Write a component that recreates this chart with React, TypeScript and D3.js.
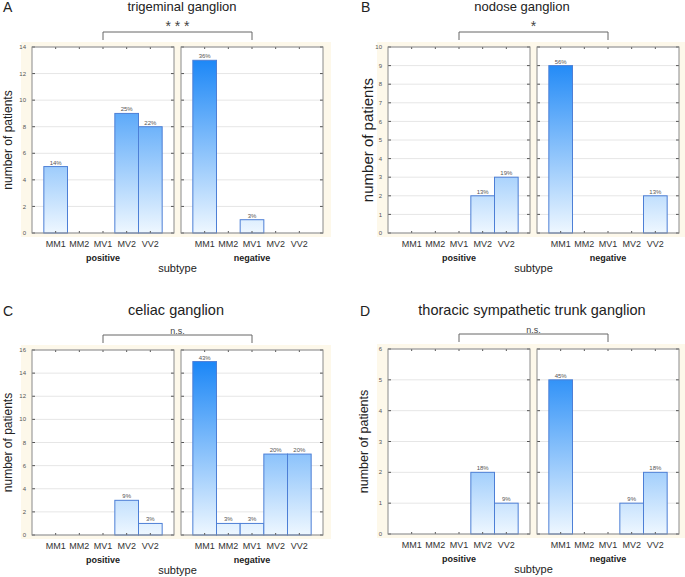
import * as d3 from 'd3';

const categories = ['MM1', 'MM2', 'MV1', 'MV2', 'VV2'];

// counts per subtype, positive / negative
const trigeminalPositive = [5, 0, 0, 9, 8];
const trigeminalNegative = [13, 0, 1, 0, 0];
const trigeminalPosPct = ['14%', '', '', '25%', '22%'];
const trigeminalNegPct = ['36%', '', '3%', '', ''];

const nodosePositive = [0, 0, 0, 2, 3];
const nodoseNegative = [9, 0, 0, 0, 2];
const nodosePosPct = ['', '', '', '13%', '19%'];
const nodoseNegPct = ['56%', '', '', '', '13%'];

const celiacPositive = [0, 0, 0, 3, 1];
const celiacNegative = [15, 1, 1, 7, 7];
const celiacPosPct = ['', '', '', '9%', '3%'];
const celiacNegPct = ['43%', '3%', '3%', '20%', '20%'];

const thoracicPositive = [0, 0, 0, 2, 1];
const thoracicNegative = [5, 0, 0, 1, 2];
const thoracicPosPct = ['', '', '', '18%', '9%'];
const thoracicNegPct = ['45%', '', '', '9%', '18%'];

const FONT = '"Liberation Sans", Arial, sans-serif';

type PanelProps = {
  id: string;
  letter: string;
  title: string;
  sig: string;
  pos: number[];
  neg: number[];
  posPct: string[];
  negPct: string[];
  yMax: number;
  yStep: number;
  x0: number;
  top: number;
  bottom: number;
  letterX: number;
  titleX: number;
  titleY: number;
  titleSize: number;
  sigSize: number;
  ylabelX: number;
  ylabelSize: number;
};

function Panel(p: PanelProps) {
  const w = 142;
  const gap = 7;
  const frames = [
    { x: p.x0, vals: p.pos, pct: p.posPct, name: 'positive' },
    { x: p.x0 + w + gap, vals: p.neg, pct: p.negPct, name: 'negative' },
  ];
  const y = d3.scaleLinear().domain([0, p.yMax]).range([p.bottom, p.top]);
  const ticks = d3.range(0, p.yMax + 0.001, p.yStep);
  const bands = frames.map(f =>
    d3.scaleBand<string>().domain(categories).range([f.x, f.x + w]).paddingInner(0).paddingOuter(0.5)
  );
  const bracketL = bands[0]('MV1')! + bands[0].bandwidth() / 2;
  const bracketR = bands[1]('MV1')! + bands[1].bandwidth() / 2;
  const gid = 'grad' + p.id;
  const bgRight = p.x0 + 2 * w + gap + 8;
  const midY = (p.top + p.bottom) / 2;

  return (
    <g>
      <defs>
        <linearGradient id={gid} gradientUnits="userSpaceOnUse" x1={0} x2={0} y1={p.top} y2={p.bottom}>
          <stop offset="0" stopColor="#0d7ff6" />
          <stop offset="1" stopColor="#eef7ff" />
        </linearGradient>
      </defs>
      <text x={p.letterX} y={p.titleY + 1} fontSize={14} fill="#222">{p.letter}</text>
      <text x={p.titleX} y={p.titleY} fontSize={p.titleSize} textAnchor="middle" fill="#222">{p.title}</text>
      <text x={(bracketL + bracketR) / 2} y={p.top - 16} fontSize={p.sigSize} textAnchor="middle" fill="#444">{p.sig}</text>
      <path
        d={`M${bracketL},${p.top - 7}V${p.top - 15}H${bracketR}V${p.top - 7}`}
        fill="none"
        stroke="#666"
        strokeWidth={1}
      />
      <rect x={p.x0 - 11} y={p.top - 5} width={bgRight - (p.x0 - 11)} height={p.bottom - p.top + 9} fill="#fdf8ea" />
      <text
        transform={`translate(${p.ylabelX},${midY}) rotate(-90)`}
        fontSize={p.ylabelSize}
        textAnchor="middle"
        fill="#222"
      >
        number of patients
      </text>
      {ticks.map(t => (
        <text key={t} x={p.x0 - 6} y={y(t)} dy="0.35em" fontSize={6} textAnchor="end" fill="#555">
          {t}
        </text>
      ))}
      {frames.map((f, fi) => {
        const x = bands[fi];
        return (
          <g key={f.name}>
            <rect x={f.x} y={p.top} width={w} height={p.bottom - p.top} fill="#fff" />
            {ticks.map(t => (
              <line key={t} x1={f.x} x2={f.x + w} y1={y(t)} y2={y(t)} stroke="#e6e6e6" strokeWidth={1} />
            ))}
            {f.vals.map((v, i) =>
              v > 0 ? (
                <rect
                  key={i}
                  x={x(categories[i])}
                  y={y(v)}
                  width={x.bandwidth()}
                  height={p.bottom - y(v)}
                  fill={`url(#${gid})`}
                  stroke="#4d7fd6"
                  strokeWidth={1}
                />
              ) : null
            )}
            {f.pct.map((s, i) =>
              s ? (
                <text
                  key={i}
                  x={x(categories[i])! + x.bandwidth() / 2}
                  y={y(f.vals[i]) - 2}
                  fontSize={6}
                  textAnchor="middle"
                  fill="#555"
                >
                  {s}
                </text>
              ) : null
            )}
            {ticks.map(t => (
              <g key={t}>
                <line x1={f.x} x2={f.x + 3} y1={y(t)} y2={y(t)} stroke="#555" />
                <line x1={f.x + w - 3} x2={f.x + w} y1={y(t)} y2={y(t)} stroke="#555" />
              </g>
            ))}
            {categories.map(c => {
              const cx = x(c)! + x.bandwidth() / 2;
              return (
                <g key={c}>
                  <line x1={cx} x2={cx} y1={p.bottom} y2={p.bottom - 2} stroke="#555" />
                  <line x1={cx} x2={cx} y1={p.top} y2={p.top + 2} stroke="#555" />
                  <text x={cx} y={p.bottom + 13.5} fontSize={9} textAnchor="middle" fill="#333">
                    {c}
                  </text>
                </g>
              );
            })}
            <rect x={f.x} y={p.top} width={w} height={p.bottom - p.top} fill="none" stroke="#8a8a8a" strokeWidth={1} />
            <text
              x={x('MV1')! + x.bandwidth() / 2}
              y={p.bottom + 28}
              fontSize={9}
              fontWeight="bold"
              textAnchor="middle"
              fill="#222"
            >
              {f.name}
            </text>
          </g>
        );
      })}
      <text x={(p.x0 + w + gap / 2)} y={p.bottom + 39} fontSize={11} textAnchor="middle" fill="#222">
        subtype
      </text>
    </g>
  );
}

export default function App() {
  return (
    <div style={{ position: 'absolute', left: 0, top: 0 }}>
      <svg width={685} height={577} style={{ fontFamily: FONT, display: 'block', background: '#fff' }}>
        <Panel
          id="A" letter="A" title="trigeminal ganglion" sig="* * *"
          pos={trigeminalPositive} neg={trigeminalNegative}
          posPct={trigeminalPosPct} negPct={trigeminalNegPct}
          yMax={14} yStep={2} x0={32} top={47} bottom={233}
          letterX={3} titleX={182} titleY={11} titleSize={13} sigSize={14}
          ylabelX={11.5} ylabelSize={12}
        />
        <Panel
          id="B" letter="B" title="nodose ganglion" sig="*"
          pos={nodosePositive} neg={nodoseNegative}
          posPct={nodosePosPct} negPct={nodoseNegPct}
          yMax={10} yStep={1} x0={388} top={47} bottom={233}
          letterX={361} titleX={522} titleY={11} titleSize={13} sigSize={14}
          ylabelX={373} ylabelSize={15}
        />
        <Panel
          id="C" letter="C" title="celiac ganglion" sig="n.s."
          pos={celiacPositive} neg={celiacNegative}
          posPct={celiacPosPct} negPct={celiacNegPct}
          yMax={16} yStep={2} x0={32} top={350} bottom={535}
          letterX={3} titleX={176} titleY={315} titleSize={14.5} sigSize={9}
          ylabelX={11.5} ylabelSize={12}
        />
        <Panel
          id="D" letter="D" title="thoracic sympathetic trunk ganglion" sig="n.s."
          pos={thoracicPositive} neg={thoracicNegative}
          posPct={thoracicPosPct} negPct={thoracicNegPct}
          yMax={6} yStep={1} x0={388} top={349} bottom={534}
          letterX={360} titleX={532} titleY={315} titleSize={14.5} sigSize={9}
          ylabelX={368} ylabelSize={12.5}
        />
      </svg>
    </div>
  );
}
